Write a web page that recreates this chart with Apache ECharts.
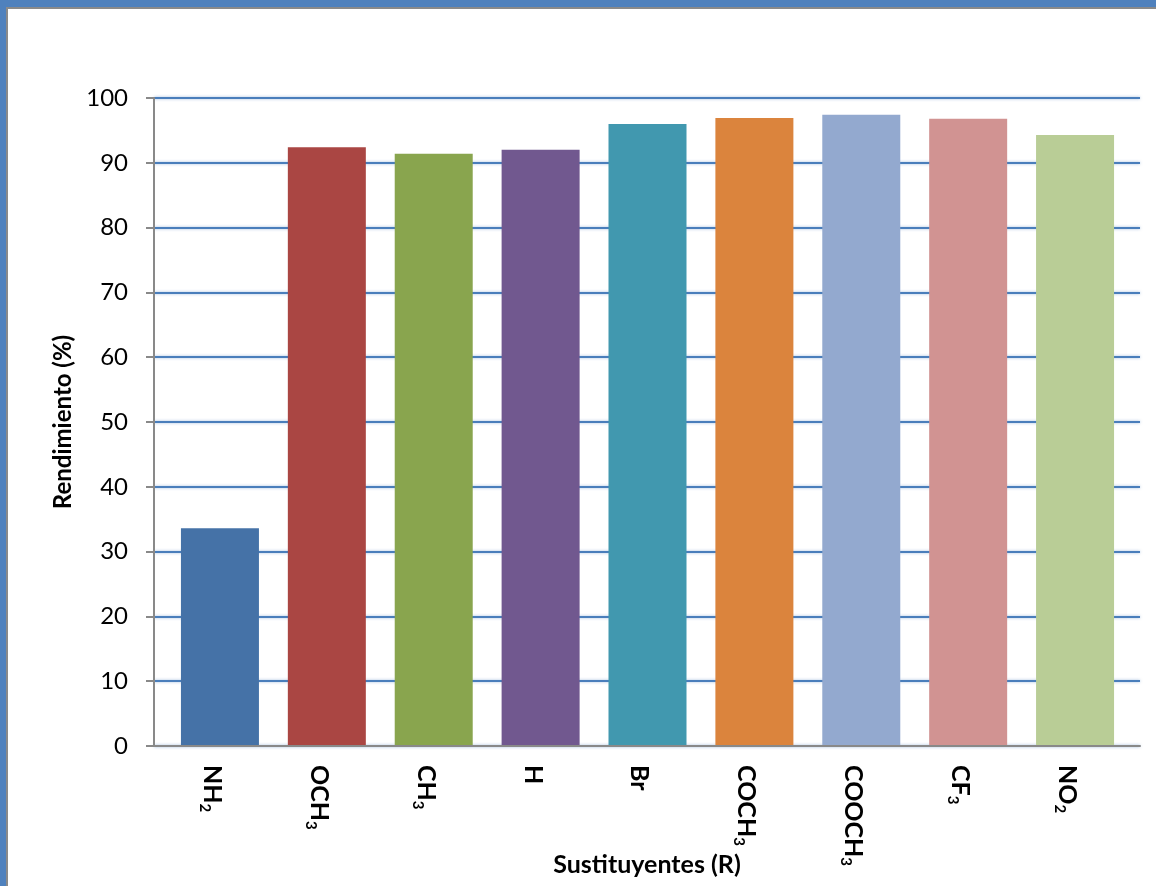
<!DOCTYPE html>
<html>
<head>
<meta charset="utf-8">
<script src="https://cdn.jsdelivr.net/npm/echarts@6/dist/echarts.min.js"></script>
<style>
  html, body { margin: 0; padding: 0; background: #ffffff; }
  #chart { position: absolute; left: 0; top: 0; width: 1156px; height: 886px; }
  .deco { position: absolute; z-index: 10; }
</style>
</head>
<body>
<div id="chart"></div>
<div class="deco" style="left:0;top:0;width:1156px;height:7px;background:#4f81bd;"></div>
<div class="deco" style="left:0;top:0;width:6px;height:886px;background:#4f81bd;"></div>
<div class="deco" style="left:6px;top:7px;width:1150px;height:2px;background:#8a8a8a;"></div>
<div class="deco" style="left:6px;top:7px;width:2px;height:879px;background:#8a8a8a;"></div>
<script>
// ---- data ----
const categories = ['NH2', 'OCH3', 'CH3', 'H', 'Br', 'COCH3', 'COOCH3', 'CF3', 'NO2'];
const rendimiento = [33.6, 92.4, 91.4, 92.0, 96.0, 96.9, 97.4, 96.8, 94.3];
const barColors = ['#4572A7', '#AA4643', '#89A54E', '#71588F', '#4198AF', '#DB843D', '#93A9CF', '#D19392', '#B9CD96'];
const yTitle = 'Rendimiento (%)';
const xTitle = 'Sustituyentes (R)';
const yMin = 0, yMax = 100, yStep = 10;

const FONT = 'Lato';
const chart = echarts.init(document.getElementById('chart'), null, { renderer: 'canvas' });

const option = {
  backgroundColor: '#ffffff',
  animation: false,
  grid: [
    { left: 154, top: 98, width: 986, height: 648 },
    { left: 166.5, top: 98, width: 962, height: 648 }
  ],
  xAxis: [
    {
      gridIndex: 0, type: 'category', data: categories,
      axisLine: { show: true, lineStyle: { color: '#898989', width: 2 } },
      axisTick: { show: false },
      axisLabel: { show: false },
      splitLine: { show: false },
      name: xTitle, nameLocation: 'middle', nameGap: 106,
      nameTextStyle: { fontFamily: FONT, fontWeight: 'bold', fontSize: 25, color: '#000' },
      z: 5
    },
    {
      gridIndex: 1, type: 'category', data: categories,
      axisLine: { show: false }, axisTick: { show: false },
      axisLabel: {
        rotate: -90, margin: 19, interval: 0,
        padding: [16, 0, 0, 0],
        formatter: v => v.replace(/([A-Za-z]+)/g, '{m|$1}').replace(/(\d+)/g, '{s|$1}'),
        rich: {
          m: { fontFamily: FONT, fontWeight: 'bold', fontSize: 25, color: '#000', lineHeight: 30 },
          s: { fontFamily: FONT, fontWeight: 'bold', fontSize: 15, color: '#000', lineHeight: 12, verticalAlign: 'bottom' }
        }
      }
    }
  ],
  yAxis: [
    {
      gridIndex: 0, type: 'value', min: yMin, max: yMax, interval: yStep,
      axisLine: { show: true, lineStyle: { color: '#898989', width: 2 } },
      axisTick: { show: true, length: 8, lineStyle: { color: '#898989', width: 2 } },
      axisLabel: { fontFamily: FONT, fontSize: 24, color: '#000', margin: 26 },
      splitLine: { show: true, lineStyle: { color: '#4a7ebb', width: 2, shadowColor: 'rgba(79,129,189,0.55)', shadowBlur: 3 } },
      name: yTitle, nameLocation: 'middle', nameGap: 73,
      nameTextStyle: { fontFamily: FONT, fontWeight: 'bold', fontSize: 24, color: '#000' }
    },
    {
      gridIndex: 1, type: 'value', min: yMin, max: yMax, interval: yStep, show: false,
      splitLine: { show: false }
    }
  ],
  series: [
    {
      type: 'bar', xAxisIndex: 1, yAxisIndex: 1,
      data: rendimiento.map((v, i) => ({ value: v, itemStyle: { color: barColors[i] } })),
      barWidth: 78,
      z: 3
    }
  ]
};
chart.setOption(option);
</script>
</body>
</html>
